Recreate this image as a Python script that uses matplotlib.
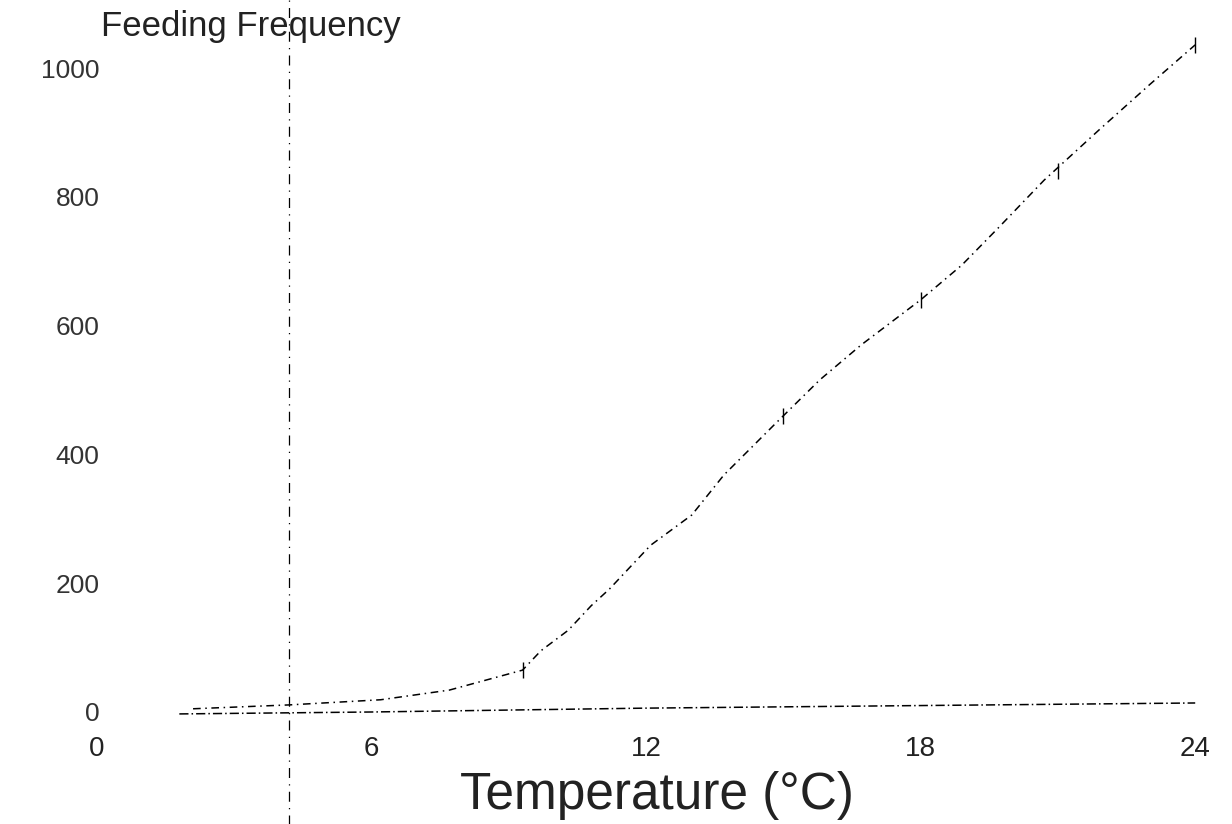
import matplotlib
matplotlib.use("Agg")
import matplotlib.pyplot as plt

plt.rcParams['font.family'] = ['Liberation Sans', 'DejaVu Sans']

# Upper curve (feeding frequency vs temperature)
temp_upper = [2.1, 4.2, 6.2, 7.7, 9.3, 9.7, 10.3, 10.8, 11.2, 12.1, 13.0, 13.7,
              14.8, 15.8, 16.7, 18.0, 18.9, 19.7, 20.7, 21.9, 23.0, 24.0]
freq_upper = [5, 11, 19, 34, 65, 95, 127, 165, 191, 259, 306, 368,
              446, 516, 570, 640, 694, 752, 826, 904, 974, 1036]

# Lower curve (near zero)
temp_lower = [1.8, 6.0, 9.0, 12.0, 15.0, 18.0, 21.0, 24.0]
freq_lower = [-3, 0, 3, 6, 8, 10, 12, 14]

# Observed points with small bars
temp_pts = [9.3, 15.0, 18.0, 21.0, 24.0]
freq_pts = [65, 460, 640, 840, 1036]

x_ticks = [0, 6, 12, 18, 24]
x_ticklabels = ['0', '6', '12', '18', '24']
y_ticks = [0, 200, 400, 600, 800, 1000]
y_ticklabels = ['0', '200', '400', '600', '800', '1000']

marker_temp = 4.2

fig = plt.figure(figsize=(12.32, 8.24), dpi=100)
ax = fig.add_axes([0.0787, 0.1203, 0.910, 0.844])
ax.set_xlim(0, 24.5)
ax.set_ylim(-20, 1060)

ax.plot(temp_upper, freq_upper, color='black', lw=1.1, linestyle=(0, (5, 3, 1, 3)))
ax.plot(temp_lower, freq_lower, color='black', lw=1.1, linestyle=(0, (6, 2, 1, 2)))
ax.errorbar(temp_pts, freq_pts, yerr=12, fmt='none', ecolor='black', elinewidth=1.0, capsize=0)

ax.axvline(marker_temp, ymin=-0.15, ymax=1.05, color='black', lw=0.9,
           linestyle=(0, (8, 5, 1, 5)), clip_on=False)

for s in ax.spines.values():
    s.set_visible(False)

ax.set_xticks(x_ticks)
ax.set_xticklabels(x_ticklabels, fontsize=20, color='#222222')
ax.set_yticks(y_ticks)
ax.set_yticklabels(y_ticklabels, fontsize=19, color='#333333')
ax.tick_params(axis='both', length=0)
ax.tick_params(axis='x', pad=8)
ax.tick_params(axis='y', pad=-2)

fig.text(0.533, 0.035, 'Temperature (°C)', fontsize=37, color='#222222',
         ha='center', va='center')
fig.text(0.082, 0.968, 'Feeding Frequency', fontsize=25, color='#222222',
         ha='left', va='center')

fig.savefig('out.png', dpi=100, facecolor='white')
